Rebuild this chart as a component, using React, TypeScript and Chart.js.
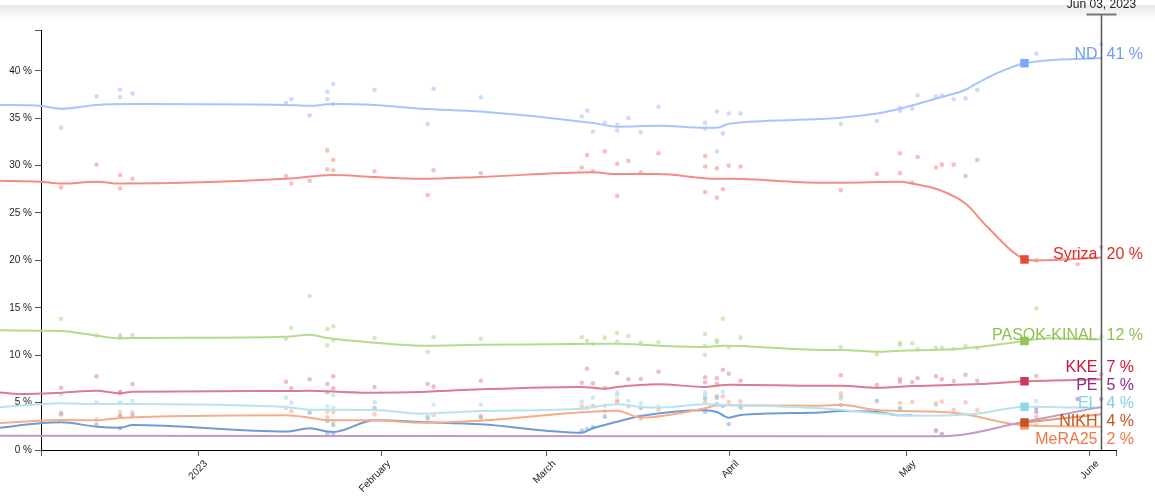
import React, { useEffect, useRef } from 'react';
import { Chart, registerables } from 'chart.js';
Chart.register(...registerables);

// ---- axis / date data (x = days since Jan 1, 2023) ----
const xMinDay = -26.6;
const xMaxDay = 155.5;
const yMaxPct = 44.3;
const monthTickDays = [0, 31, 59, 90, 120, 151];
const monthTickLabels = ['2023', 'February', 'March', 'April', 'May', 'June'];
const yTickValues = [0, 5, 10, 15, 20, 25, 30, 35, 40];
const electionDay = 140;
const crosshairDay = 153;
const crosshairLabel = 'Jun 03, 2023';

// ---- trend lines [day, %] ----
const ndTrend = [[-33.6, 36.4], [-26.7, 36.3], [-23.2, 36.0], [-17.2, 36.4], [-11.1, 36.5], [14.9, 36.4], [18.9, 36.3], [22.8, 36.5], [29.9, 36.4], [37.8, 36.0], [47.9, 35.7], [66.9, 34.5], [71.0, 34.1], [77.9, 34.2], [85.9, 34.0], [87.9, 34.0], [89.9, 34.4], [105.4, 34.9], [115.0, 35.5], [118.9, 36.0], [125.2, 37.1], [130.0, 38.0], [132.0, 38.7], [135.9, 39.9], [140, 40.8], [153, 41.35]];
const syrizaTrend = [[-33.6, 28.4], [-26.7, 28.3], [-23.2, 28.1], [-17.2, 28.3], [-13.2, 28.1], [14.9, 28.6], [22.8, 29.0], [29.9, 28.8], [37.8, 28.6], [47.9, 28.8], [66.9, 29.3], [71.0, 29.1], [77.9, 29.1], [87.9, 28.6], [89.9, 28.6], [105.4, 28.2], [108.9, 28.2], [118.9, 28.3], [121.0, 28.1], [125.7, 27.4], [130.0, 26.0], [133.6, 23.6], [140, 20.15], [142, 20.0], [153, 20.3]];
const pasokTrend = [[-33.6, 12.62], [-26.7, 12.58], [-23.2, 12.55], [-17.2, 12.07], [-13.2, 11.78], [-11.1, 11.81], [14.9, 11.95], [18.9, 12.16], [21.9, 11.81], [29.9, 11.32], [37.8, 11.0], [47.9, 11.1], [59.1, 11.15], [71.0, 11.2], [78.0, 11.0], [86.0, 10.87], [88.9, 11.0], [91.8, 10.97], [105.4, 10.55], [108.9, 10.55], [115.0, 10.37], [118.9, 10.47], [128.0, 10.62], [132.5, 10.9], [140, 11.5], [143.8, 11.78], [153, 11.68]];
const kkeTrend = [[-33.6, 6.08], [-30.2, 5.91], [-23.2, 6.05], [-17.2, 6.26], [-13.2, 5.98], [-11.1, 6.15], [14.9, 6.22], [18.9, 6.25], [21.9, 6.19], [29.9, 6.04], [37.8, 6.12], [47.9, 6.4], [65.0, 6.65], [68.9, 6.47], [71.0, 6.65], [78.0, 6.93], [85.9, 6.65], [87.9, 6.78], [89.9, 6.89], [105.4, 6.78], [108.9, 6.78], [115.0, 6.57], [121.2, 6.75], [132.5, 6.96], [140, 7.25], [153, 7.45]];
const peTrend = [[-33.6, 1.5], [126.0, 1.45], [140, 2.98], [153, 4.55]];
const elTrend = [[-33.6, 4.5], [-26.7, 4.82], [-23.2, 4.92], [-17.2, 4.85], [-13.2, 4.85], [14.9, 4.54], [18.9, 4.25], [22.8, 4.25], [29.9, 4.22], [37.8, 3.83], [47.9, 4.11], [65.0, 4.35], [71.0, 4.82], [75.0, 4.54], [78.0, 4.47], [85.9, 4.82], [89.9, 4.75], [105.4, 4.4], [115.0, 3.87], [121.2, 3.62], [128.0, 3.66], [132.5, 3.87], [140, 4.57], [153, 4.42]];
const nikhTrend = [[140, 2.9], [153, 3.76]];
const meraTrend = [[-33.6, 2.85], [-26.7, 3.09], [-23.2, 3.16], [-17.2, 3.13], [-13.2, 3.38], [14.9, 3.66], [18.9, 3.41], [21.9, 3.16], [29.9, 3.13], [37.8, 2.88], [47.9, 3.09], [65.0, 3.97], [71.0, 4.15], [75.0, 3.41], [85.9, 4.4], [87.9, 4.71], [105.4, 4.68], [108.9, 4.78], [115.0, 4.22], [128.0, 3.93], [140, 2.6], [153, 2.46]];
const ellinesTrend = [[-33.6, 2.35], [-26.7, 2.81], [-23.2, 2.92], [-17.2, 2.46], [-13.2, 2.35], [-11.1, 2.64], [14.9, 1.95], [18.9, 2.29], [21.9, 1.95], [22.9, 1.9], [29.9, 3.13], [37.8, 2.95], [47.9, 2.71], [65.0, 1.83], [66.9, 2.29], [71.0, 2.98], [75.0, 3.59], [85.9, 4.19], [87.9, 4.01], [89.9, 3.41], [91.9, 3.69], [105.4, 3.96], [108.9, 4.11], [115.0, 4.01], [118.9, 3.66], [121.0, 3.66]];

// ---- individual polls [day, %] ----
const ndPolls = [[-23.2, 34.0], [-17.2, 37.3], [-13.2, 38.0], [-13.2, 37.2], [-11.1, 37.6], [14.9, 36.6], [15.8, 37.0], [18.9, 35.3], [21.9, 37.8], [21.9, 37.0], [22.9, 38.6], [22.9, 36.5], [29.9, 38.0], [38.9, 34.4], [39.9, 38.1], [47.9, 37.2], [65.0, 35.2], [65.9, 35.8], [66.9, 33.6], [68.9, 34.5], [71.0, 34.3], [71.0, 33.7], [72.9, 35.0], [75.0, 33.5], [78.0, 36.2], [85.9, 34.5], [85.9, 33.9], [87.9, 35.7], [87.9, 31.5], [88.9, 33.4], [89.9, 35.5], [91.9, 35.5], [108.9, 34.4], [115.0, 34.7], [118.9, 36.1], [118.9, 35.8], [121.0, 36.0], [121.9, 37.4], [125.0, 37.3], [126.0, 37.4], [128.0, 37.0], [130.0, 37.1], [132.0, 38.0], [142.0, 41.8], [153.0, 42.8]];
const syrizaPolls = [[-23.2, 27.7], [-17.2, 30.1], [-13.2, 29.0], [-13.2, 27.6], [-11.1, 28.6], [14.9, 28.9], [15.8, 28.1], [18.9, 28.4], [21.9, 31.6], [22.9, 30.6], [21.9, 29.6], [22.9, 29.5], [29.9, 29.4], [38.9, 26.9], [39.9, 29.5], [47.9, 29.2], [65.0, 29.8], [65.9, 31.1], [66.9, 29.4], [68.9, 31.5], [71.0, 30.2], [71.0, 26.8], [72.9, 30.5], [75.0, 29.3], [78.0, 31.3], [85.9, 31.0], [85.9, 29.9], [85.9, 27.2], [87.9, 29.7], [87.9, 26.6], [88.9, 27.5], [89.9, 30.0], [91.9, 29.9], [108.9, 27.4], [115.0, 29.1], [118.9, 31.3], [118.9, 29.2], [121.0, 28.2], [121.9, 30.9], [125.0, 29.8], [126.0, 30.1], [128.0, 30.1], [130.0, 28.9], [132.0, 30.6], [142.0, 20.0], [149.0, 19.6], [153.0, 21.4]];
const pasokPolls = [[-23.2, 13.85], [-17.2, 12.06], [-13.2, 12.06], [-13.2, 11.85], [-11.1, 12.13], [14.9, 11.74], [15.8, 12.87], [18.9, 16.24], [21.9, 12.76], [21.9, 11.04], [22.9, 13.05], [22.9, 11.57], [29.9, 11.78], [38.9, 10.34], [39.9, 11.92], [47.9, 11.74], [65.0, 11.89], [65.9, 11.53], [66.9, 11.18], [68.9, 11.85], [71.0, 12.34], [71.0, 11.42], [72.9, 12.03], [75.0, 11.32], [78.0, 11.36], [85.9, 12.24], [85.9, 11.0], [85.9, 10.05], [87.9, 11.57], [87.9, 11.36], [88.9, 13.85], [89.9, 10.87], [91.9, 11.85], [108.9, 10.87], [115.0, 10.09], [118.9, 11.29], [118.9, 11.1], [121.0, 11.25], [121.9, 10.62], [125.0, 10.79], [126.0, 10.79], [128.0, 10.65], [130.0, 11.0], [132.0, 10.72], [142.0, 14.94], [153.0, 11.95]];
const kkePolls = [[-23.2, 6.57], [-17.2, 7.77], [-13.2, 6.15], [-13.2, 5.98], [-11.1, 6.96], [14.9, 7.2], [15.8, 6.5], [18.9, 7.46], [21.9, 6.96], [21.9, 6.08], [22.9, 7.77], [22.9, 6.5], [29.9, 6.65], [38.9, 6.96], [39.9, 6.68], [47.9, 7.31], [65.0, 7.1], [65.9, 8.58], [66.9, 7.03], [68.9, 6.54], [71.0, 8.12], [72.9, 7.46], [75.0, 7.49], [78.0, 8.26], [85.9, 7.67], [85.9, 7.14], [87.9, 7.56], [87.9, 6.99], [88.9, 8.47], [89.9, 8.05], [91.9, 7.31], [108.9, 7.88], [115.0, 6.86], [118.9, 7.49], [118.9, 7.2], [121.0, 7.14], [121.9, 7.56], [125.0, 7.77], [126.0, 7.46], [128.0, 7.28], [130.0, 7.94], [132.0, 7.31], [142.0, 7.8], [153.0, 7.98]];
const pePolls = [[125.0, 2.04], [126.0, 1.69], [142.0, 4.46], [142.0, 4.04], [149.0, 5.38], [153.0, 5.38]];
const elPolls = [[-23.2, 5.87], [-17.2, 5.03], [-13.2, 5.03], [-11.1, 5.17], [14.9, 5.52], [15.8, 4.99], [21.9, 4.57], [22.9, 5.8], [22.9, 4.46], [29.9, 5.03], [38.9, 3.55], [39.9, 4.78], [47.9, 4.78], [65.0, 5.1], [66.9, 5.52], [68.9, 4.68], [71.0, 6.05], [71.0, 5.77], [72.9, 5.17], [75.0, 4.96], [78.0, 4.57], [85.9, 6.09], [85.9, 5.8], [87.9, 5.52], [88.9, 6.15], [91.9, 4.54], [108.9, 5.45], [125.0, 4.75], [142.0, 5.17]];
const nikhPolls = [[142.0, 3.51]];
const meraPolls = [[-23.2, 3.94], [-17.2, 3.2], [-13.2, 4.0], [-13.2, 3.59], [-11.1, 3.97], [14.9, 4.46], [15.8, 4.08], [21.9, 4.04], [21.9, 3.44], [22.9, 4.0], [22.9, 3.02], [29.9, 3.76], [38.9, 2.92], [39.9, 3.69], [47.9, 3.62], [65.0, 4.61], [65.9, 4.46], [66.9, 4.67], [68.9, 4.11], [71.0, 5.24], [71.0, 5.03], [72.9, 4.61], [75.0, 3.27], [78.0, 4.25], [85.9, 5.03], [87.9, 5.66], [88.9, 5.66], [89.9, 5.06], [91.9, 5.1], [108.9, 5.98], [108.9, 5.62], [118.9, 4.96], [121.0, 5.06], [125.0, 4.89], [126.0, 5.1], [128.0, 4.22], [130.0, 5.03], [132.0, 4.22], [142.0, 2.64]];
const ellinesPolls = [[-23.2, 3.76], [-17.2, 2.67], [-13.2, 3.55], [-13.2, 2.29], [-11.1, 3.66], [18.9, 3.94], [21.9, 3.06], [21.9, 1.72], [22.9, 2.64], [22.9, 1.72], [29.9, 4.43], [38.9, 3.41], [47.9, 3.41], [65.0, 2.04], [65.9, 2.18], [66.9, 2.43], [68.9, 3.52], [75.0, 4.46], [85.9, 5.45], [85.9, 4.04], [87.9, 5.52], [87.9, 4.82], [88.9, 4.64], [89.9, 2.74], [91.9, 4.5], [108.9, 4.75], [115.0, 5.17], [118.9, 4.4]];

// ---- election results (May 21) ----
const electionParties = ['ND', 'Syriza', 'PASOK-KINAL', 'KKE', 'EL', 'NIKH', 'MeRA25'];
const electionResults = [40.8, 20.1, 11.5, 7.25, 4.55, 2.9, 2.6];

// ---- series registry ----
const partyNames = ['ND', 'Syriza', 'PASOK-KINAL', 'KKE', 'PE', 'EL', 'NIKH', 'MeRA25', 'Ellines'];
const partyTrends = [ndTrend, syrizaTrend, pasokTrend, kkeTrend, peTrend, elTrend, nikhTrend, meraTrend, ellinesTrend];
const partyPolls = [ndPolls, syrizaPolls, pasokPolls, kkePolls, pePolls, elPolls, nikhPolls, meraPolls, ellinesPolls];
const labeledParties = ['ND', 'Syriza', 'PASOK-KINAL', 'KKE', 'PE', 'EL', 'NIKH', 'MeRA25'];

// ---- styles ----
const styles: Record<string, { line: string; dot: string; label: string; square: string }> = {
  'ND': { line: '#a8c4fa', dot: 'rgba(168,196,250,0.6)', label: '#6e9ef2', square: '#7ea8f6' },
  'Syriza': { line: '#f28d84', dot: 'rgba(242,141,132,0.55)', label: '#e32a1f', square: '#e8493d' },
  'PASOK-KINAL': { line: '#b6da8e', dot: 'rgba(182,218,142,0.6)', label: '#8cc24f', square: '#93c65a' },
  'KKE': { line: '#dd7b90', dot: 'rgba(221,123,144,0.5)', label: '#c9173d', square: '#cc3a5a' },
  'PE': { line: '#c597c3', dot: 'rgba(180,120,200,0.6)', label: '#8e2c86', square: '#a0509a' },
  'EL': { line: '#b9e3ed', dot: 'rgba(170,220,235,0.6)', label: '#86d0e6', square: '#96d5e8' },
  'NIKH': { line: '#e59a72', dot: 'rgba(229,154,114,0.55)', label: '#c8541f', square: '#c8541f' },
  'MeRA25': { line: '#f5ad8c', dot: 'rgba(245,160,125,0.5)', label: '#f07646', square: '#f59466' },
  'Ellines': { line: '#6f9bd2', dot: 'rgba(111,155,210,0.5)', label: '#6f9bd2', square: '#6f9bd2' },
};
const FONT = '"Liberation Sans", Arial, sans-serif';

const toXY = (arr: number[][]) => arr.map(([x, y]) => ({ x, y }));

const overlayPlugin = {
  id: 'overlay',
  beforeDraw(chart: any) {
    const { ctx, width } = chart;
    ctx.save();
    const g = ctx.createLinearGradient(0, 5, 0, 21);
    g.addColorStop(0, 'rgba(0,0,0,0.09)');
    g.addColorStop(1, 'rgba(0,0,0,0)');
    ctx.fillStyle = g;
    ctx.fillRect(0, 5, width, 16);
    ctx.restore();
  },
  afterDatasetsDraw(chart: any) {
    const { ctx, scales } = chart;
    const x = scales.x, y = scales.y;
    const lx = Math.round(x.getPixelForValue(crosshairDay)) + 0.5;
    const bottom = chart.chartArea.bottom;
    ctx.save();
    // crosshair
    ctx.strokeStyle = '#555';
    ctx.lineWidth = 1.5;
    ctx.beginPath();
    ctx.moveTo(lx, 14);
    ctx.lineTo(lx, bottom);
    ctx.stroke();
    ctx.strokeStyle = '#777';
    ctx.lineWidth = 2;
    ctx.beginPath();
    ctx.moveTo(lx - 15, 14.5);
    ctx.lineTo(lx + 15, 14.5);
    ctx.stroke();
    ctx.fillStyle = '#222';
    ctx.font = `12px ${FONT}`;
    ctx.textAlign = 'center';
    ctx.textBaseline = 'alphabetic';
    ctx.fillText(crosshairLabel, lx, 8);

    // end labels with collision avoidance
    const gap = 18;
    const items = labeledParties.map((name) => {
      const t = partyTrends[partyNames.indexOf(name)];
      const v = t[t.length - 1][1];
      return { name, v, y0: y.getPixelForValue(v), y: 0 };
    }).sort((a, b) => a.y0 - b.y0);
    let clusters = items.map((it) => ({ members: [it] }));
    const layout = (c: any) => {
      const mean = c.members.reduce((s: number, m: any) => s + m.y0, 0) / c.members.length;
      c.members.forEach((m: any, i: number) => { m.y = mean + (i - (c.members.length - 1) / 2) * gap; });
    };
    clusters.forEach(layout);
    let merged = true;
    while (merged) {
      merged = false;
      for (let i = 0; i < clusters.length - 1; i++) {
        const a = clusters[i], b = clusters[i + 1];
        if (a.members[a.members.length - 1].y + gap > b.members[0].y) {
          const c = { members: a.members.concat(b.members) };
          layout(c);
          clusters.splice(i, 2, c);
          merged = true;
          break;
        }
      }
    }
    ctx.font = `16px ${FONT}`;
    items.forEach((it) => {
      ctx.fillStyle = styles[it.name].label;
      ctx.textAlign = 'right';
      ctx.fillText(it.name, lx - 4, it.y + 1);
      ctx.textAlign = 'left';
      ctx.fillText(`${Math.round(it.v)} %`, lx + 5, it.y + 1);
    });
    ctx.restore();
  },
};

export default function App() {
  const ref = useRef<HTMLCanvasElement | null>(null);
  useEffect(() => {
    if (!ref.current) return;
    const datasets: any[] = [];
    partyNames.forEach((name, i) => {
      datasets.push({
        type: 'scatter',
        label: name + ' polls',
        data: toXY(partyPolls[i]),
        backgroundColor: styles[name].dot,
        borderWidth: 0,
        pointRadius: 2.3,
        order: 3,
      });
    });
    partyNames.forEach((name, i) => {
      datasets.push({
        type: 'line',
        label: name,
        data: toXY(partyTrends[i]),
        borderColor: styles[name].line,
        borderWidth: 2,
        pointRadius: 0,
        fill: false,
        cubicInterpolationMode: 'monotone',
        clip: false,
        order: 2,
      });
    });
    electionParties.forEach((name, i) => {
      datasets.push({
        type: 'scatter',
        label: name + ' result',
        data: [{ x: electionDay, y: electionResults[i] }],
        backgroundColor: styles[name].square,
        borderWidth: 0,
        pointStyle: 'rect',
        pointRadius: 6,
        order: 1,
      });
    });

    const chart = new Chart(ref.current, {
      type: 'scatter',
      data: { datasets },
      plugins: [overlayPlugin],
      options: {
        animation: false,
        responsive: false,
        devicePixelRatio: 1,
        events: [],
        layout: { padding: { top: 30, right: 39, left: 0, bottom: 0 } },
        plugins: { legend: { display: false }, tooltip: { enabled: false } },
        scales: {
          x: {
            type: 'linear',
            bounds: 'data',
            afterDataLimits: (s: any) => { s.min = xMinDay; s.max = xMaxDay; },
            afterBuildTicks: (s: any) => {
              s.ticks = [xMinDay, ...monthTickDays, xMaxDay].map((v) => ({ value: v }));
            },
            afterFit: (s: any) => { s.height = 50; s.paddingLeft = 0; s.paddingRight = 0; s.paddingTop = 0; s.paddingBottom = 0; },
            grid: { drawOnChartArea: false, drawTicks: true, tickLength: 6, color: '#555', lineWidth: 1 },
            border: { display: true, color: '#000', width: 1 },
            ticks: {
              autoSkip: false,
              minRotation: 45,
              maxRotation: 45,
              padding: 2,
              labelOffset: 8,
              color: '#222',
              font: { size: 10, family: FONT },
              callback: (v: any) => {
                const idx = monthTickDays.indexOf(Number(v));
                return idx >= 0 ? monthTickLabels[idx] : '';
              },
            },
          },
          y: {
            type: 'linear',
            bounds: 'data',
            afterDataLimits: (s: any) => { s.min = 0; s.max = yMaxPct; },
            afterBuildTicks: (s: any) => {
              s.ticks = [...yTickValues, yMaxPct].map((v) => ({ value: v }));
            },
            afterFit: (s: any) => { s.width = 41; s.paddingTop = 0; s.paddingBottom = 0; s.paddingLeft = 0; s.paddingRight = 0; },
            grid: { drawOnChartArea: false, drawTicks: true, tickLength: 6, color: '#555', lineWidth: 1 },
            border: { display: true, color: '#000', width: 1 },
            ticks: {
              padding: 3,
              color: '#222',
              font: { size: 10, family: FONT },
              callback: (v: any) => (yTickValues.indexOf(Number(v)) >= 0 ? `${v} %` : ''),
            },
          },
        },
      } as any,
    });
    return () => chart.destroy();
  }, []);

  return (
    <div style={{ position: 'absolute', left: 0, top: 0, width: 1155, height: 500, background: '#fff' }}>
      <canvas ref={ref} width={1155} height={500} style={{ width: 1155, height: 500, display: 'block' }} />
    </div>
  );
}
